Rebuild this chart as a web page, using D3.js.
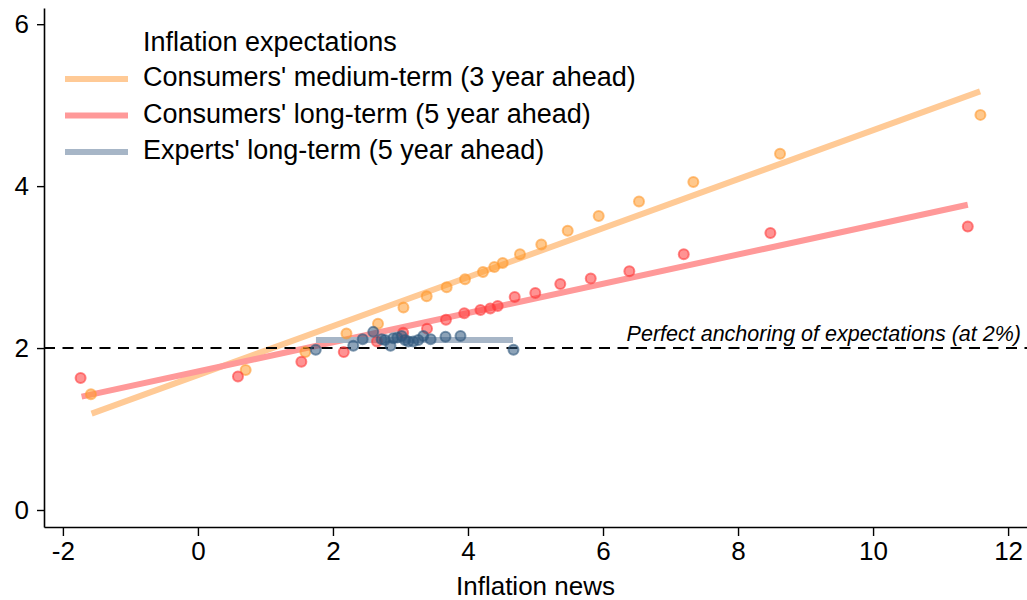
<!DOCTYPE html>
<html lang="en">
<head>
    <meta charset="UTF-8">
    <title>Inflation news vs inflation expectations</title>
    <script src="https://d3js.org/d3.v7.min.js"></script>
    <style>
        body { margin: 0; background: #fff; }
        svg text { font-family: "Liberation Sans", Arial, sans-serif; fill: #000; }
    </style>
</head>
<body>
    <svg width="1027" height="600"></svg>

    <script>
        // Binned scatter points: [inflation news, expectation]
        const mediumTerm = [
            [-1.585, 1.43], [0.707, 1.73], [1.591, 1.95], [2.200, 2.18], [2.667, 2.30],
            [3.044, 2.50], [3.388, 2.64], [3.684, 2.75], [3.956, 2.85], [4.222, 2.94],
            [4.390, 3.00], [4.514, 3.05], [4.770, 3.16], [5.086, 3.28], [5.477, 3.45],
            [5.936, 3.63], [6.533, 3.81], [7.338, 4.05], [8.622, 4.40], [11.590, 4.88]
        ];
        const longTerm = [
            [-1.738, 1.63], [0.593, 1.65], [1.532, 1.83], [2.160, 1.95], [2.652, 2.08],
            [3.040, 2.19], [3.393, 2.24], [3.674, 2.35], [3.945, 2.43], [4.185, 2.47],
            [4.330, 2.49], [4.440, 2.52], [4.692, 2.63], [4.997, 2.68], [5.367, 2.79],
            [5.818, 2.86], [6.390, 2.95], [7.196, 3.16], [8.479, 3.42], [11.403, 3.50]
        ];
        const experts = [
            [1.745, 1.98], [2.301, 2.03], [2.440, 2.11], [2.597, 2.20], [2.721, 2.11],
            [2.770, 2.10], [2.852, 2.03], [2.893, 2.12], [2.953, 2.13], [3.018, 2.15],
            [3.067, 2.10], [3.116, 2.08], [3.190, 2.08], [3.264, 2.10], [3.338, 2.15],
            [3.447, 2.11], [3.667, 2.14], [3.889, 2.15], [4.674, 1.98]
        ];

        // Fitted lines: [[x0, y0], [x1, y1]]
        const mediumFit = [[-1.575, 1.19], [11.585, 5.17]];
        const longFit = [[-1.723, 1.40], [11.403, 3.77]];
        const expertsFit = [[1.748, 2.10], [4.667, 2.10]];

        const xTicks = [-2, 0, 2, 4, 6, 8, 10, 12];
        const yTicks = [0, 2, 4, 6];
        const anchorLevel = 2;

        const seriesNames = [
            "Consumers' medium-term (3 year ahead)",
            "Consumers' long-term (5 year ahead)",
            "Experts' long-term (5 year ahead)"
        ];

        const series = [
            { name: seriesNames[0], pts: mediumTerm, fit: mediumFit, line: "#ffca96", dot: "#ff9a2e" },
            { name: seriesNames[1], pts: longTerm, fit: longFit, line: "#ff9999", dot: "#ff3b3b" },
            { name: seriesNames[2], pts: experts, fit: expertsFit, line: "#a7b6c7", dot: "#30587d" }
        ];

        const svg = d3.select("svg");

        const x = d3.scaleLinear().domain([-2.28, 12.28]).range([44, 1027]);
        const y = d3.scaleLinear().domain([-0.21, 6.2]).range([527, 8]);

        // Axes
        const fmt = d => String(d).replace("\u2212", "-");
        const xAxis = svg.append("g")
            .attr("transform", `translate(0,${y.range()[0]})`)
            .call(d3.axisBottom(x).tickValues(xTicks).tickFormat(fmt)
                .tickSize(9).tickPadding(6).tickSizeOuter(0));
        const yAxis = svg.append("g")
            .attr("transform", `translate(${x.range()[0]},0)`)
            .call(d3.axisLeft(y).tickValues(yTicks).tickFormat(fmt)
                .tickSize(7).tickPadding(8).tickSizeOuter(0));

        [xAxis, yAxis].forEach(g => {
            g.select(".domain").attr("stroke", "#000").attr("stroke-width", 1.6);
            g.selectAll(".tick line").attr("stroke", "#000").attr("stroke-width", 1.4);
            g.selectAll(".tick text").style("font-size", "26px").attr("fill", "#000");
        });

        svg.append("text")
            .attr("x", (x.range()[0] + x.range()[1]) / 2)
            .attr("y", 595)
            .attr("text-anchor", "middle")
            .style("font-size", "26px")
            .text("Inflation news");

        // Fit lines
        const line = d3.line().x(d => x(d[0])).y(d => y(d[1]));
        series.forEach(s => {
            svg.append("path")
                .datum(s.fit)
                .attr("d", line)
                .attr("fill", "none")
                .attr("stroke", s.line)
                .attr("stroke-width", 6);
        });

        // Reference line at 2%
        svg.append("line")
            .attr("x1", x.range()[0]).attr("x2", x.range()[1])
            .attr("y1", y(anchorLevel)).attr("y2", y(anchorLevel))
            .attr("stroke", "#000")
            .attr("stroke-width", 2)
            .attr("stroke-dasharray", "11,7.5");

        svg.append("text")
            .attr("x", 1021)
            .attr("y", y(anchorLevel) - 7)
            .attr("text-anchor", "end")
            .style("font-size", "21.5px")
            .style("font-style", "italic")
            .text("Perfect anchoring of expectations (at 2%)");

        // Points
        series.forEach(s => {
            svg.append("g")
                .selectAll("circle")
                .data(s.pts)
                .enter()
                .append("circle")
                .attr("cx", d => x(d[0]))
                .attr("cy", d => y(d[1]))
                .attr("r", 5)
                .attr("fill", s.dot)
                .attr("fill-opacity", 0.55)
                .attr("stroke", s.dot)
                .attr("stroke-opacity", 0.6)
                .attr("stroke-width", 2);
        });

        // Legend
        const legend = svg.append("g");
        legend.append("text")
            .attr("x", 143)
            .attr("y", 51)
            .style("font-size", "27px")
            .text("Inflation expectations");

        const items = legend.selectAll(".item")
            .data(series)
            .enter()
            .append("g")
            .attr("transform", (d, i) => `translate(0, ${79 + i * 36.5})`);

        items.append("line")
            .attr("x1", 65).attr("x2", 128)
            .attr("stroke", d => d.line)
            .attr("stroke-width", 6);

        items.append("text")
            .attr("x", 143)
            .attr("y", 7)
            .style("font-size", "27px")
            .text(d => d.name);
    </script>
</body>
</html>
